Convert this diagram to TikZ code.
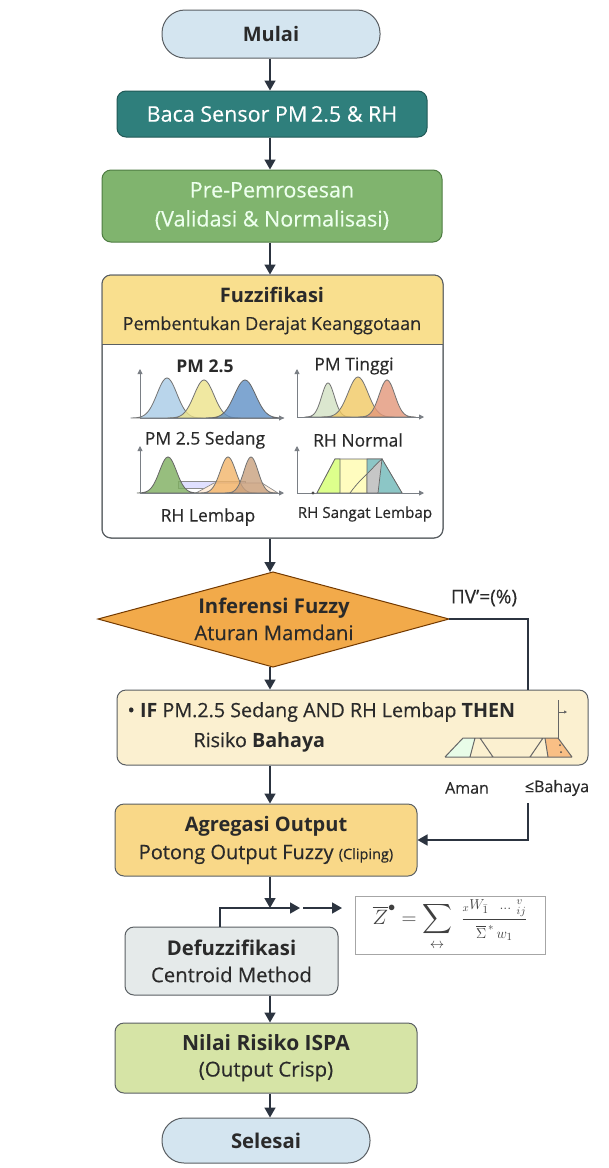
\documentclass[tikz,border=0pt]{standalone}
\usepackage{amsmath}
\usepackage{fontspec}
\setmainfont{Open Sans}[UprightFeatures={FakeBold=0.35}]
\usetikzlibrary{arrows.meta}
\definecolor{txt}{HTML}{2A2A2A}
\definecolor{bordc}{HTML}{5A5F63}
\definecolor{arrc}{HTML}{2C3440}
\definecolor{cStart}{HTML}{D4E5F0}
\definecolor{cBaca}{HTML}{2F7F7C}
\definecolor{cPre}{HTML}{80B46E}
\definecolor{cPreB}{HTML}{4E7C42}
\definecolor{cHdr}{HTML}{F9DF8E}
\definecolor{cDia}{HTML}{F2AA4A}
\definecolor{cRule}{HTML}{FBF0D0}
\definecolor{cAgg}{HTML}{F9D888}
\definecolor{cDef}{HTML}{E5EAEA}
\definecolor{cNil}{HTML}{D6E4A6}
\definecolor{axc}{HTML}{7A7F85}
\definecolor{bA}{HTML}{A8CBE6}
\definecolor{bB}{HTML}{EDE38A}
\definecolor{bC}{HTML}{5F90C6}
\definecolor{bD}{HTML}{D3E2C4}
\definecolor{bE}{HTML}{F1C863}
\definecolor{bF}{HTML}{E3977A}
\definecolor{bG}{HTML}{7DAE5E}
\definecolor{bH}{HTML}{F2B46A}
\definecolor{bI}{HTML}{C9A07E}
\newcommand{\bellc}[6]{%
  \filldraw[fill=#5, draw=#6, fill opacity=0.8, line width=0.8pt]
    plot[domain=#1-2.6*#3:#1+2.6*#3, samples=50, smooth]
    (\x,{#4-#2*exp(-(\x-#1)*(\x-#1)/(#3*#3))}) -- cycle;}
\begin{document}
\begin{tikzpicture}[x=1pt,y=-1pt,
  every node/.style={text=txt, align=center},
  box/.style={draw=bordc, line width=1pt, rounded corners=9pt, inner sep=0pt},
  arr/.style={draw=arrc, line width=1.6pt, -{Triangle[length=10pt,width=11pt]}},
  ln/.style={draw=arrc, line width=1.3pt},
  axis/.style={draw=axc, line width=0.9pt, -{Triangle[length=5pt,width=5pt]}},
  lbl/.style={font=\fontsize{17.5}{20}\selectfont},
  small/.style={font=\fontsize{16}{18}\selectfont}]
\useasboundingbox (0,0) rectangle (609,1168);
\fill[white] (0,0) rectangle (609,1168);
\coordinate (spine) at (270,0);
\coordinate (rx) at (528,0);

% start
\node[box, fill=cStart, rounded corners=23pt, minimum width=218pt, minimum height=48pt,
  font=\fontsize{20}{24}\selectfont] (start) at (271,34) {\bfseries Mulai};
% baca
\node[box, fill=cBaca, draw=cBaca!70!black, minimum width=310pt, minimum height=46pt,
  font=\fontsize{21.5}{26}\selectfont, text=white] (baca) at (272,114) {Baca Sensor PM\,2.5 \& RH};
% pre
\node[box, fill=cPre, draw=cPreB, minimum width=340pt, minimum height=72pt,
  font=\fontsize{21.5}{29}\selectfont, text=white!93!green] (pre) at (272,206)
  {Pre-Pemrosesan\\(Validasi \& Normalisasi)};
% fuzzification box
\node[box, fill=white, minimum width=341pt, minimum height=263pt] (fuzz) at (272.5,406.5) {};
\fill[cHdr] (102,344) [rounded corners=9pt] -- (102,275) -- (443,275) [sharp corners] -- (443,344) -- cycle;
\draw[bordc, line width=0.8pt] (102,344) -- (443,344);
\draw[bordc, line width=1pt, rounded corners=9pt] (102,275) rectangle (443,538);
\node[font=\fontsize{18}{27}\selectfont] (fuzzhdr) at (272,311)
  {{\fontsize{20}{27}\selectfont\bfseries Fuzzifikasi}\\Pembentukan Derajat Keanggotaan};

% panel 1
\node[lbl] (p1) at (205,366) {\bfseries PM 2.5};
\bellc{167}{40}{14}{418}{bA}{black!55}
\bellc{204}{38}{14}{418}{bB}{black!55}
\bellc{245}{38}{15}{418}{bC}{black!60}
\draw[axis] (140,418) -- (284,418);
\draw[axis] (140,418) -- (140,369);
% panel 2
\node[lbl] (p2) at (354,366) {PM Tinggi};
\bellc{328}{34}{9}{417}{bD}{black!55}
\bellc{358}{40}{14}{417}{bE}{black!55}
\bellc{387}{37}{11}{417}{bF}{black!55}
\draw[axis] (297,417) -- (424,417);
\draw[axis] (297,417) -- (297,369);
% panel 3
\node[lbl] (p3) at (205,440) {PM 2.5 Sedang};
\filldraw[fill=blue!12, draw=black!45, line width=0.7pt] (178,481) rectangle (245,488);
\filldraw[fill=orange!14, draw=black!45, line width=0.7pt] (196,493) -- (214,483) -- (262,483) -- (278,493) -- cycle;
\bellc{168}{36}{12}{493}{bG}{black!60}
\bellc{228}{36}{11}{493}{bH}{black!55}
\bellc{251}{36}{10}{493}{bI}{black!55}
\draw[axis] (140,493) -- (284,493);
\draw[axis] (140,493) -- (140,446);
\node[lbl] (p3b) at (208,517) {RH Lembap};
% panel 4
\node[lbl] (p4) at (358,440) {RH Normal};
\filldraw[fill=yellow!25, draw=black!60, line width=0.8pt] (317,493) -- (335,459) -- (382,459) -- (402,493) -- cycle;
\filldraw[fill=green!30!yellow!45, draw=black!60, line width=0.7pt] (317,493) -- (335,459) -- (340,459) -- (340,493) -- cycle;
\filldraw[fill=teal!45!white, draw=black!60, line width=0.7pt] (367,459) -- (382,459) -- (402,493) -- (367,493) -- cycle;
\filldraw[fill=gray!45, draw=black!60, line width=0.7pt] (367,493) -- (367,474) .. controls (373,468) and (378,462) .. (382,459) -- (378,493) -- cycle;
\draw[black!60, line width=0.7pt] (350,493) .. controls (358,482) and (364,477) .. (367,474);
\draw[axis] (297,493) -- (424,493);
\draw[axis] (297,493) -- (297,446);
\fill[black!70] (313,493) circle (1.6pt);
\node[font=\fontsize{15.2}{18}\selectfont] (p4b) at (365,514) {RH Sangat Lembap};

% diamond
\coordinate (diaN) at (273,572);
\coordinate (diaS) at (273,667);
\coordinate (diaW) at (98,619);
\coordinate (diaE) at (449,619);
\filldraw[draw=black!55!orange, fill=cDia, line width=1pt] (diaW) -- (diaN) -- (diaE) -- (diaS) -- cycle;
\node[font=\fontsize{20.3}{27}\selectfont] (dia) at (274,619) {\bfseries Inferensi Fuzzy\\Aturan Mamdani};
\node[font=\fontsize{19}{21}\selectfont] (mv) at (484,598) {ΠV'=(\%)};

% rule box
\node[box, fill=cRule, minimum width=471pt, minimum height=75pt] (rule) at (352.5,727.5) {};
\node[font=\fontsize{19.7}{22}\selectfont, anchor=west] (r1) at (124,712) {• \textbf{IF} PM.2.5 Sedang AND RH Lembap \textbf{THEN}};
\node[font=\fontsize{19.7}{22}\selectfont, anchor=west] (r2) at (190,742) {Risiko \textbf{Bahaya}};
% mini plot
\fill[gray!20!green!10!white] (445,757) -- (463,738) -- (475,738) -- (470,757) -- cycle;
\fill[orange!45!white!90!brown] (545,738) -- (558,738) -- (572,757) -- (548,757) -- cycle;
\draw[black!60, line width=1pt] (445,757) -- (463,738) -- (480,738) -- (493,757)
   (530,757) -- (543,738) -- (558,738) -- (572,757)
   (445,757) -- (572,757) (480,738) -- (543,738)
   (475,738) -- (470,757) (545,738) -- (548,757);
\draw[black!60, line width=1pt] (558,738) -- (558,700);
\draw[black!60, line width=0.8pt, -{Triangle[length=3pt,width=3pt]}] (558,712) -- (567,712);
\fill[black!70] (560,745) circle (1pt) (561,752) circle (1pt);
\node[small] (aman) at (467,788) {Aman};
\node[small] (bah) at (557,788) {≤Bahaya};
\coordinate (ls) at (528,803);

% agregasi
\node[box, fill=cAgg, minimum width=302pt, minimum height=72pt, font=\fontsize{20}{28}\selectfont]
  (agg) at (266,840) {\bfseries Agregasi Output\\Potong Output Fuzzy {\fontsize{14.5}{16}\selectfont(Cliping)}};
% formula
\node[draw=black!35, line width=1pt, fill=white, minimum width=190pt, minimum height=58pt, inner sep=0pt,
  text=black!75, font=\fontsize{21}{24}\selectfont] (form) at (450,925)
  {$\overline{Z}^{\bullet} = \displaystyle\sum_{\leftrightarrow}\;\frac{\scriptstyle {}_{x}W_{\bar{1}}\ \ \ldots\ {}^{v}_{ij}\vphantom{W}}{\scriptstyle\overline{\Sigma}^{\,*}\,w_{1}}$};
% defuzz
\node[box, fill=cDef, minimum width=213pt, minimum height=68pt, font=\fontsize{20.3}{27}\selectfont]
  (defz) at (231.5,961) {\bfseries Defuzzifikasi\\Centroid Method};
% nilai
\node[box, fill=cNil, minimum width=302pt, minimum height=70pt, font=\fontsize{20.5}{26}\selectfont]
  (nil) at (266,1058) {{\fontsize{21}{26}\selectfont\bfseries Nilai Risiko ISPA}\\(Output Crisp)};
% end
\node[box, fill=cStart, rounded corners=22pt, minimum width=208pt, minimum height=45pt,
  font=\fontsize{20.3}{24}\selectfont] (end) at (266,1140.5) {\bfseries Selesai};

\coordinate (dj) at (300,908);
\coordinate (dx) at (220,0);
\coordinate (fj) at (303,908);
\coordinate (fk) at (342,908);

% connectors
\draw[arr] (start.south -| spine) -- (baca.north -| spine);
\draw[arr] (baca.south -| spine) -- (pre.north -| spine);
\draw[arr] (pre.south -| spine) -- (fuzz.north -| spine);
\draw[arr] (fuzz.south -| spine) -- (spine |- diaN);
\draw[arr] (spine |- diaS) -- (spine |- rule.north);
\draw[ln] (diaE) -| (rule.north -| rx);
\draw[arr] (ls) |- (agg.east);
\draw[arr] (rule.south -| spine) -- (agg.north -| spine);
\draw[arr] (agg.south -| spine) -- (spine |- dj);
\draw[arr] (defz.north -| dx) |- (dj);
\draw[arr] (fj) -- (fk);
\draw[arr] (defz.south -| spine) -- (nil.north -| spine);
\draw[arr] (nil.south -| spine) -- (end.north -| spine);
\end{tikzpicture}
\end{document}
